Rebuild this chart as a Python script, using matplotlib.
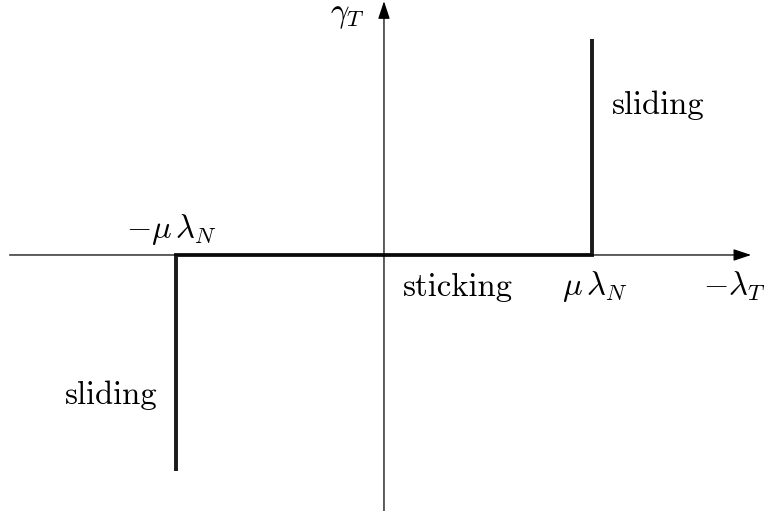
import matplotlib.pyplot as plt

plt.rcParams["font.family"] = "cmr10"
plt.rcParams["mathtext.fontset"] = "cm"
plt.rcParams["axes.unicode_minus"] = False

# friction law: slip rate vs. tangential force, scaled so that mu*lambda_N = 1
law_x = [-1.0, -1.0, 1.0, 1.0]
law_y = [-1.04, 0.0, 0.0, 1.04]

# axis extents (data units)
x_axis = (-1.80, 1.765)
y_axis = (-1.23, 1.22)

fig = plt.figure(figsize=(7.64, 5.11), dpi=100)
ax = fig.add_axes([0, 0, 1, 1])
ax.set_xlim(-1.846, 1.827)
ax.set_ylim(-1.231, 1.226)
ax.axis("off")

arrow = dict(arrowstyle="-|>,head_length=0.9,head_width=0.3", color="black",
             lw=0.9, mutation_scale=12, shrinkA=0, shrinkB=0)
ax.annotate("", xy=(x_axis[1], 0), xytext=(x_axis[0], 0), arrowprops=arrow)
ax.annotate("", xy=(0, y_axis[1]), xytext=(0, y_axis[0]), arrowprops=arrow)

ax.plot(law_x, law_y, color="#1a1a1a", lw=2.8, solid_joinstyle="miter",
        solid_capstyle="butt")

fs = 23.5
ax.text(-0.175, 1.145, r"$\gamma_T$", fontsize=fs, ha="center", va="center")
ax.text(1.096, 0.72, "sliding", fontsize=fs, ha="left", va="center")
ax.text(-1.087, -0.673, "sliding", fontsize=fs, ha="right", va="center")
ax.text(-1.024, 0.122, r"$-\mu\,\lambda_N$", fontsize=fs, ha="center", va="center")
ax.text(0.091, -0.154, "sticking", fontsize=fs, ha="left", va="center")
ax.text(1.014, -0.15, r"$\mu\,\lambda_N$", fontsize=fs, ha="center", va="center")
ax.text(1.683, -0.15, r"$-\lambda_T$", fontsize=fs, ha="center", va="center")

fig.savefig("out.png", dpi=100)
